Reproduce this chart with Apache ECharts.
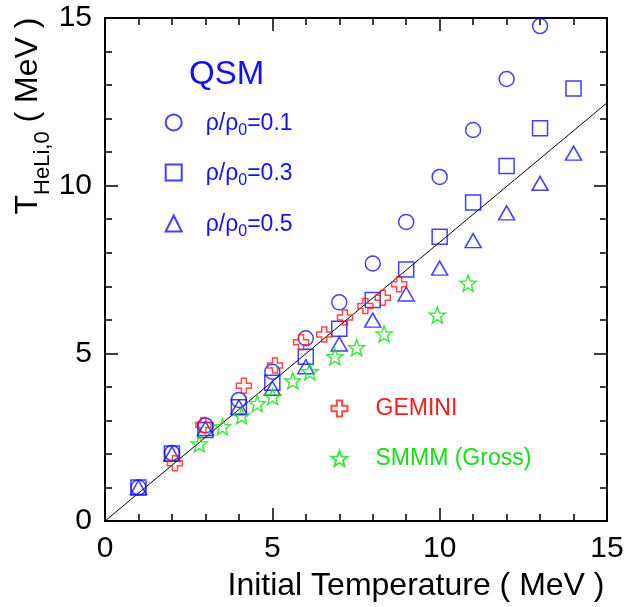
<!DOCTYPE html>
<html>
<head>
<meta charset="utf-8">
<script src="https://cdn.jsdelivr.net/npm/echarts@6/dist/echarts.min.js"></script>
<style>
  html, body { margin: 0; padding: 0; background: #fff; }
  #chart { width: 627px; height: 607px; }
</style>
</head>
<body>
<div id="chart"></div>
<script>
  // QSM results, initial temperature 1..14 MeV
  const qsmT = [1, 2, 3, 4, 5, 6, 7, 8, 9, 10, 11, 12, 13, 14];
  const qsm01 = [1.0, 2.03, 2.85, 3.61, 4.45, 5.45, 6.52, 7.68, 8.92, 10.26, 11.66, 13.18, 14.76];
  const qsm03 = [1.0, 2.01, 2.71, 3.39, 4.12, 4.9, 5.73, 6.59, 7.5, 8.48, 9.5, 10.59, 11.71, 12.9];
  const qsm05 = [1.0, 2.0, 2.76, 3.4, 3.96, 4.6, 5.28, 5.99, 6.77, 7.54, 8.36, 9.19, 10.07, 10.97];

  // GEMINI
  const geminiX = [2.09, 2.94, 4.15, 5.08, 5.86, 6.55, 7.17, 7.78, 8.3, 8.79];
  const geminiY = [1.72, 2.86, 4.03, 4.64, 5.33, 5.56, 6.07, 6.41, 6.66, 7.06];

  // SMMM (Gross)
  const smmmX = [2.82, 3.51, 4.08, 4.55, 5.01, 5.61, 6.12, 6.87, 7.52, 8.34, 9.93, 10.85];
  const smmmY = [2.3, 2.81, 3.14, 3.5, 3.71, 4.18, 4.45, 4.9, 5.17, 5.58, 6.14, 7.09];

  // reference line
  const lineX = [0, 15];
  const lineY = [0, 12.47];

  const BLUE = '#1010ff';
  const RED = '#ff1a1a';
  const GREEN = '#12e012';
  const FONT = 'Liberation Sans';

  const crossPath = 'path://M-1,-3L1,-3L1,-1L3,-1L3,1L1,1L1,3L-1,3L-1,1L-3,1L-3,-1L-1,-1Z';
  const starPath = 'path://M0,-100L25,-34L95.1,-30.9L40,12L58.8,80.9L0,43L-58.8,80.9L-40,12L-95.1,-30.9L-25,-34Z';

  function pairs(xs, ys) {
    return ys.map((y, i) => [xs[i], y]);
  }

  function hollow(color) {
    return { color: 'rgba(0,0,0,0)', borderColor: color, borderWidth: 1.5 };
  }

  const tickStyle = { color: '#000', width: 1.5 };
  function makeAxis(pos, showLabel) {
    return {
      type: 'value',
      position: pos,
      min: 0, max: 15, interval: 5,
      axisLine: { show: true, onZero: false, lineStyle: { color: '#000', width: 2 } },
      axisTick: { show: true, inside: true, length: 13, lineStyle: tickStyle },
      minorTick: { show: true, splitNumber: 5, length: 7, lineStyle: tickStyle },
      splitLine: { show: false },
      axisLabel: {
        show: showLabel,
        fontFamily: FONT,
        fontSize: 30,
        color: '#000',
        margin: 13
      }
    };
  }

  const legendRich = {
    m: { fontSize: 23, lineHeight: 23, verticalAlign: 'top', fontFamily: FONT },
    s: { fontSize: 16, lineHeight: 16, verticalAlign: 'top', padding: [11, 0, 0, 0], fontFamily: FONT }
  };

  // icon centre x=172.7, text starts at x=205
  function qsmLegend(name, cy) {
    return {
      data: [name],
      left: 172.7 - 8,
      top: cy - 8,
      padding: 0,
      itemWidth: 16,
      itemHeight: 16,
      selectedMode: false,
      formatter: n => '{m|ρ/ρ}{s|0}{m|=' + n.split('=')[1] + '}',
      textStyle: { color: BLUE, rich: legendRich, padding: [2, 0, 0, 19] }
    };
  }

  // icon centre x=338.5, text starts at x=375
  function plainLegend(name, cy, color) {
    return {
      data: [name],
      left: 338.5 - 8,
      top: cy - 8,
      padding: 0,
      itemWidth: 16,
      itemHeight: 16,
      selectedMode: false,
      textStyle: { color: color, fontSize: 23, fontFamily: FONT, padding: [0, 0, 0, 23] }
    };
  }

  const chart = echarts.init(document.getElementById('chart'));
  chart.setOption({
    animation: false,
    backgroundColor: '#fff',
    grid: { left: 105, right: 20, top: 18, bottom: 86, containLabel: false },
    xAxis: [makeAxis('bottom', true), makeAxis('top', false)],
    yAxis: [makeAxis('left', true), makeAxis('right', false)],
    legend: [
      qsmLegend('ρ/ρ0=0.1', 120),
      qsmLegend('ρ/ρ0=0.3', 170),
      qsmLegend('ρ/ρ0=0.5', 221),
      plainLegend('GEMINI', 405, RED),
      plainLegend('SMMM (Gross)', 455, GREEN)
    ],
    graphic: [
      {
        type: 'text', x: 189, y: 75,
        style: { text: 'QSM', fontSize: 33, fontFamily: FONT, fill: BLUE, verticalAlign: 'middle' }
      },
      {
        type: 'text', x: 416, y: 586,
        style: { text: 'Initial Temperature ( MeV )', fontSize: 32, fontFamily: FONT, fill: '#000', align: 'center', verticalAlign: 'middle' }
      },
      {
        type: 'text', x: 12, y: 116, rotation: Math.PI / 2,
        style: {
          text: '{m|T}{s|HeLi,0}{m| ( MeV )}',
          align: 'center', verticalAlign: 'top',
          fill: '#000',
          rich: {
            m: { fontSize: 32, lineHeight: 32, verticalAlign: 'top', fontFamily: FONT },
            s: { fontSize: 22, lineHeight: 22, verticalAlign: 'top', padding: [20, 0, 0, 0], fontFamily: FONT }
          }
        }
      }
    ],
    series: [
      {
        type: 'line', name: 'ref', data: pairs(lineX, lineY), showSymbol: false, silent: true,
        lineStyle: { color: '#000', width: 1 }, z: 1
      },
      {
        type: 'scatter', name: 'ρ/ρ0=0.1', data: pairs(qsmT, qsm01),
        symbol: 'circle', symbolSize: 15, itemStyle: hollow(BLUE)
      },
      {
        type: 'scatter', name: 'ρ/ρ0=0.3', data: pairs(qsmT, qsm03),
        symbol: 'rect', symbolSize: 15, itemStyle: hollow(BLUE)
      },
      {
        type: 'scatter', name: 'ρ/ρ0=0.5', data: pairs(qsmT, qsm05),
        symbol: 'triangle', symbolSize: [16, 14], itemStyle: hollow(BLUE)
      },
      {
        type: 'scatter', name: 'GEMINI', data: pairs(geminiX, geminiY),
        symbol: crossPath, symbolSize: 15, itemStyle: hollow(RED)
      },
      {
        type: 'scatter', name: 'SMMM (Gross)', data: pairs(smmmX, smmmY),
        symbol: starPath, symbolSize: 16, itemStyle: hollow(GREEN)
      }
    ]
  });
</script>
</body>
</html>
